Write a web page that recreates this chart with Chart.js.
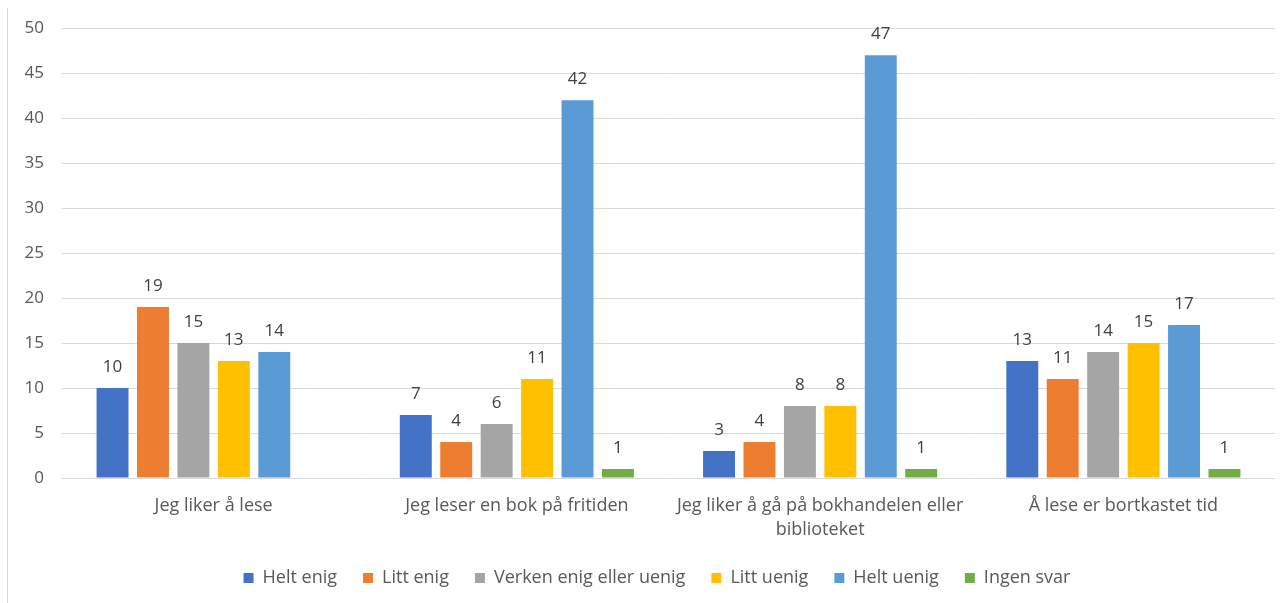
<!DOCTYPE html>
<html>
<head>
<meta charset="utf-8">
<script src="https://cdn.jsdelivr.net/npm/chart.js@4/dist/chart.umd.min.js"></script>
<style>
  html, body { margin: 0; padding: 0; background: #fff; }
  #wrap { position: relative; width: 1287px; height: 603px; }
  #frame { position: absolute; left: 7px; top: 8px; bottom: 0; width: 0; border-left: 1px solid #d9d9d9; }
  canvas { position: absolute; left: 0; top: 0; }
</style>
</head>
<body>
<div id="wrap">
  <div id="frame"></div>
  <canvas id="c" width="1287" height="603"></canvas>
</div>
<script>
const categories = [
  "Jeg liker å lese",
  "Jeg leser en bok på fritiden",
  ["Jeg liker å gå på bokhandelen eller", "biblioteket"],
  "Å lese er bortkastet tid"
];
const heltEnig   = [10, 7, 3, 13];
const littEnig   = [19, 4, 4, 11];
const verken     = [15, 6, 8, 14];
const littUenig  = [13, 11, 8, 15];
const heltUenig  = [14, 42, 47, 17];
const ingenSvar  = [null, 1, 1, 1];

const seriesNames  = ["Helt enig", "Litt enig", "Verken enig eller uenig", "Litt uenig", "Helt uenig", "Ingen svar"];
const seriesValues = [heltEnig, littEnig, verken, littUenig, heltUenig, ingenSvar];
const seriesColors = ["#4472C4", "#ED7D31", "#A5A5A5", "#FFC000", "#5B9BD5", "#70AD47"];

const FONT = "'Open Sans', 'Liberation Sans', sans-serif";

// Writes each bar's value just above it
const valueLabels = {
  id: "valueLabels",
  afterDatasetsDraw(chart) {
    const ctx = chart.ctx;
    ctx.save();
    ctx.font = "17px " + FONT;
    ctx.fillStyle = "#404040";
    ctx.textAlign = "center";
    ctx.textBaseline = "middle";
    chart.data.datasets.forEach((ds, i) => {
      const meta = chart.getDatasetMeta(i);
      meta.data.forEach((el, j) => {
        const v = ds.data[j];
        if (v === null || v === undefined) return;
        ctx.fillText(String(v), el.x, el.y - 21);
      });
    });
    ctx.restore();
  }
};

// Centres the legend row under the plot area plus the axis gutter
const legendShift = {
  id: "legendShift",
  afterLayout(chart) {
    if (chart.legend) chart.legend.left = 39;
  }
};

new Chart(document.getElementById("c"), {
  type: "bar",
  data: {
    labels: categories,
    datasets: seriesNames.map((name, i) => ({
      label: name,
      data: seriesValues[i],
      backgroundColor: seriesColors[i],
      borderWidth: 0,
      categoryPercentage: 0.8,
      barPercentage: 0.79
    }))
  },
  options: {
    responsive: false,
    animation: false,
    layout: { padding: { left: 0, right: 12, top: 20, bottom: 6 } },
    plugins: {
      legend: {
        position: "bottom",
        labels: {
          boxWidth: 10,
          boxHeight: 10,
          padding: 26,
          color: "#595959",
          font: { family: FONT, size: 18 }
        }
      },
      tooltip: { enabled: false }
    },
    scales: {
      x: {
        grid: { display: false, drawTicks: false },
        border: { display: false },
        ticks: { color: "#595959", padding: 16, font: { family: FONT, size: 18, lineHeight: 1.34 }, maxRotation: 0 },
        afterFit(s) { s.height = 65; }
      },
      y: {
        min: 0,
        max: 50,
        ticks: { stepSize: 5, color: "#595959", padding: 18, font: { family: FONT, size: 17 } },
        grid: { color: "#d9d9d9", lineWidth: 1, drawTicks: false },
        border: { display: false },
        afterFit(s) { s.width = 62; }
      }
    }
  },
  plugins: [valueLabels, legendShift]
});
</script>
</body>
</html>
